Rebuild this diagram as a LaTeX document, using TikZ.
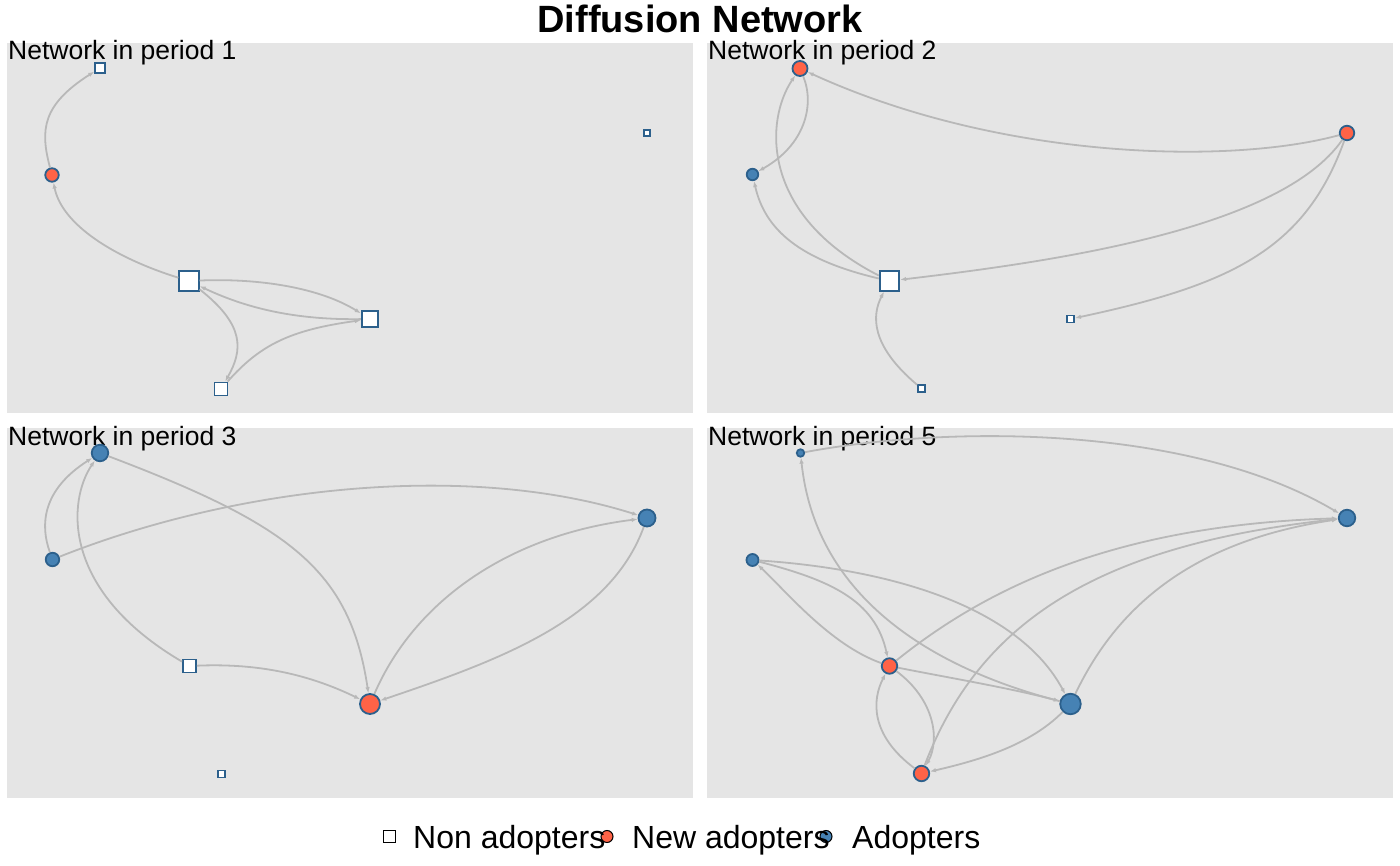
\documentclass[tikz,border=0pt]{standalone}
\usepackage{fontspec}
\setmainfont{Liberation Sans}
\usetikzlibrary{arrows.meta}
\definecolor{panelgray}{RGB}{229,229,229}
\definecolor{edgegray}{RGB}{184,184,184}
\definecolor{rimblue}{RGB}{44,96,140}
\definecolor{adoptblue}{RGB}{70,130,180}
\definecolor{newred}{RGB}{255,99,71}
\tikzset{
  nonadopt/.style={rectangle,draw=rimblue,fill=white,line width=1.9pt,inner sep=0pt,minimum size=#1},
  nonadopt/.default=8pt,
  newadopt/.style={circle,draw=rimblue,fill=newred,line width=1.8pt,inner sep=0pt,minimum size=#1},
  newadopt/.default=14pt,
  adopt/.style={circle,draw=rimblue,fill=adoptblue,line width=1.8pt,inner sep=0pt,minimum size=#1},
  adopt/.default=14pt,
  link/.style={edgegray,line width=1.8pt,-{Latex[length=6pt,width=4.5pt]}},
  paneltitle/.style={anchor=base west,inner sep=0pt,font=\fontsize{26.5}{30}\selectfont},
  keytext/.style={anchor=base west,inner sep=0pt,font=\fontsize{32}{38}\selectfont}
}
\begin{document}
\begin{tikzpicture}[x=1pt,y=-1pt]
\useasboundingbox (0,0) rectangle (1400,866);
\node[anchor=base,inner sep=0pt,font=\bfseries\fontsize{38}{44}\selectfont] (title) at (700,33) {Diffusion Network};

% panel backgrounds
\fill[panelgray] (7,43) rectangle (693,413);
\fill[panelgray] (707,43) rectangle (1393,413);
\fill[panelgray] (7,428) rectangle (693,798);
\fill[panelgray] (707,428) rectangle (1393,798);
\node[paneltitle] (t1) at (8,60) {Network in period 1};
\node[paneltitle] (t2) at (708,60) {Network in period 2};
\node[paneltitle] (t3) at (8,445) {Network in period 3};
\node[paneltitle] (t5) at (708,445) {Network in period 5};

% period 1
\node[nonadopt=9.5pt] (p1a) at (100,68) {};
\node[newadopt=13.5pt] (p1b) at (52,175) {};
\node[nonadopt=19.5pt] (p1c) at (189,281) {};
\node[nonadopt=16.5pt] (p1d) at (370,319) {};
\node[nonadopt=13pt] (p1e) at (221,389) {};
\node[nonadopt=6.5pt] (p1f) at (647,133) {};
\draw[link] (p1b) .. controls (40,130) and (42,105) .. (p1a);
\draw[link] (p1c) .. controls (115,258) and (62,225) .. (p1b);
\draw[link] (p1c) .. controls (260,278) and (320,288) .. (p1d);
\draw[link] (p1d) .. controls (300,320) and (250,310) .. (p1c);
\draw[link] (p1c) .. controls (245,325) and (243,350) .. (p1e);
\draw[link] (p1e) .. controls (260,345) and (290,330) .. (p1d);

% period 2
\node[newadopt=15pt] (p2a) at (800,68.5) {};
\node[adopt=11.5pt] (p2b) at (752.5,174.5) {};
\node[newadopt=14.5pt] (p2c) at (1347,133) {};
\node[nonadopt=19.5pt] (p2d) at (889.5,281) {};
\node[nonadopt=7pt] (p2e) at (1070.5,319) {};
\node[nonadopt=7pt] (p2f) at (921.5,388.5) {};
\draw[link] (p2c) .. controls (1230,165) and (1000,160) .. (p2a);
\draw[link] (p2a) .. controls (815,105) and (805,145) .. (p2b);
\draw[link] (p2d) .. controls (760,215) and (765,120) .. (p2a);
\draw[link] (p2d) .. controls (800,260) and (765,230) .. (p2b);
\draw[link] (p2c) .. controls (1280,230) and (1050,262) .. (p2d);
\draw[link] (p2c) .. controls (1305,250) and (1230,285) .. (p2e);
\draw[link] (p2f) .. controls (870,345) and (872,315) .. (p2d);

% period 3
\node[adopt=16.5pt] (p3a) at (100,453) {};
\node[adopt=13.5pt] (p3b) at (52.5,559.5) {};
\node[adopt=17pt] (p3c) at (647,518) {};
\node[nonadopt=13pt] (p3d) at (189.5,666) {};
\node[newadopt=20pt] (p3e) at (370,704) {};
\node[nonadopt=7pt] (p3f) at (221.5,774) {};
\draw[link] (p3b) .. controls (40,525) and (42,490) .. (p3a);
\draw[link] (p3d) .. controls (60,590) and (68,500) .. (p3a);
\draw[link] (p3b) .. controls (240,485) and (470,462) .. (p3c);
\draw[link] (p3a) .. controls (290,525) and (350,570) .. (p3e);
\draw[link] (p3d) .. controls (260,663) and (310,675) .. (p3e);
\draw[link] (p3e) .. controls (415,600) and (510,535) .. (p3c);
\draw[link] (p3c) .. controls (610,620) and (500,660) .. (p3e);

% period 5
\node[adopt=7.5pt] (p5a) at (800.5,453) {};
\node[adopt=12pt] (p5b) at (752.5,560) {};
\node[adopt=16.5pt] (p5c) at (1347,518) {};
\node[newadopt=15.5pt] (p5d) at (889.5,666) {};
\node[adopt=20.5pt] (p5e) at (1070.5,704) {};
\node[newadopt=15.5pt] (p5f) at (921.5,773.5) {};
\draw[link] (p5a) .. controls (950,425) and (1190,425) .. (p5c);
\draw[link] (p5e) .. controls (920,665) and (815,590) .. (p5a);
\draw[link] (p5b) .. controls (830,580) and (875,600) .. (p5d);
\draw[link] (p5d) .. controls (830,645) and (785,590) .. (p5b);
\draw[link] (p5b) .. controls (900,570) and (1020,610) .. (p5e);
\draw[link] (p5d) .. controls (950,678) and (1010,688) .. (p5e);
\draw[link] (p5d) .. controls (990,585) and (1120,525) .. (p5c);
\draw[link] (p5f) .. controls (980,620) and (1100,545) .. (p5c);
\draw[link] (p5e) .. controls (1120,600) and (1200,540) .. (p5c);
\draw[link] (p5e) .. controls (1030,745) and (980,760) .. (p5f);
\draw[link] (p5d) .. controls (935,700) and (940,740) .. (p5f);
\draw[link] (p5f) .. controls (870,735) and (872,700) .. (p5d);

% legend
\node[rectangle,draw=black,fill=white,line width=1.3pt,inner sep=0pt,minimum size=12pt] (keynon) at (389.5,836.5) {};
\node[circle,draw=black,fill=newred,line width=1pt,inner sep=0pt,minimum size=12pt] (keynew) at (607,836.5) {};
\node[circle,draw=black,fill=adoptblue,line width=1pt,inner sep=0pt,minimum size=12pt] (keyold) at (826,836.5) {};
\node[keytext] (labnon) at (413,848) {Non adopters};
\node[keytext] (labnew) at (632,848) {New adopters};
\node[keytext] (labold) at (852,848) {Adopters};
\end{tikzpicture}
\end{document}
